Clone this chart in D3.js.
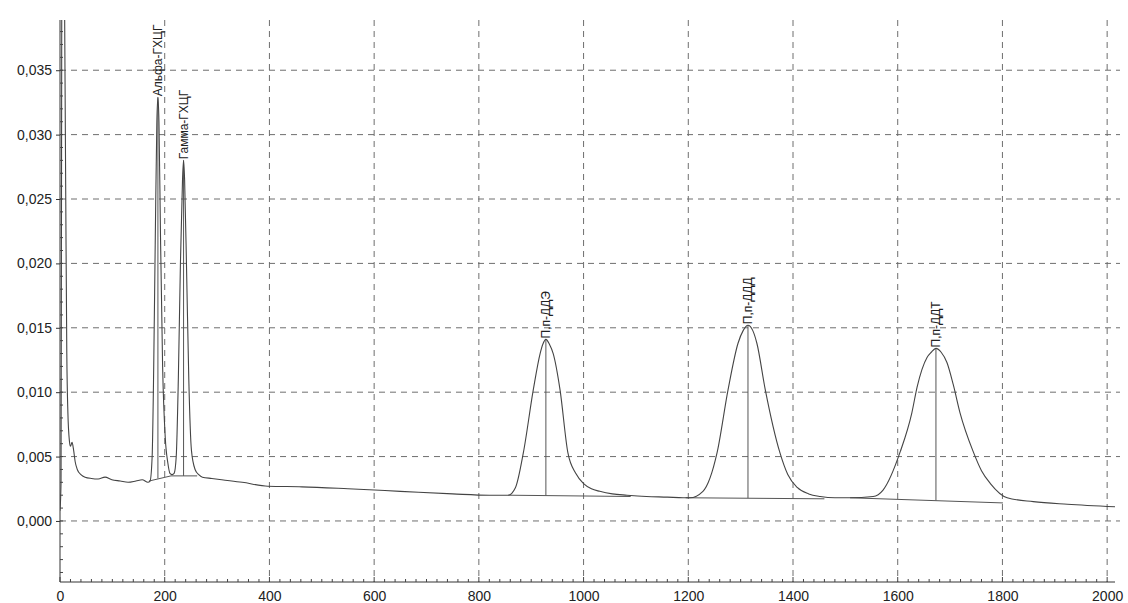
<!DOCTYPE html>
<html>
<head>
<meta charset="UTF-8">
<title>Хроматограмма</title>
<style>
    body { margin: 0; background: #fff; }
    text { font-family: "Liberation Sans", Arial, sans-serif; fill: #222; }
    .grid line { stroke: #6e6e6e; stroke-dasharray: 6,5; stroke-width: 1; }
    .trace { fill: none; stroke: #444; stroke-width: 1.1px; }
    .mark { stroke: #555; stroke-width: 1px; }
</style>
</head>
<body>
<svg id="chart"></svg>
<script src="https://d3js.org/d3.v7.min.js"></script>
<script>
    // signal (time, response)
    var traceX = [0, 2, 3.5, 5, 8, 11, 13, 15, 18, 20, 23, 26, 29, 33, 40, 48, 60, 73, 86, 99, 115, 130, 145, 157, 168,
        172, 176, 179, 182, 185, 187, 189, 192, 196, 201, 206, 210, 214, 218, 222, 226, 230, 234, 236, 238, 242, 246,
        251, 258, 265, 272, 290, 309, 348, 397, 462, 550, 650, 750, 820, 856, 870, 885, 904, 917, 922, 928, 935, 942,
        955, 970, 985, 1000, 1015, 1031, 1055, 1083, 1120, 1160, 1190, 1203, 1228, 1255, 1276, 1295, 1305, 1314, 1323,
        1331, 1347, 1375, 1390, 1408, 1430, 1452, 1480, 1509, 1553, 1572, 1605, 1627, 1637, 1656, 1664, 1673, 1683,
        1694, 1706, 1719, 1744, 1760, 1777, 1809, 1859, 1924, 2015];
    var traceY = [0.0008, 0.003, 0.045, 0.06, 0.045, 0.025, 0.013, 0.0085, 0.0062, 0.0058, 0.0061, 0.0055, 0.0046,
        0.0040, 0.0036, 0.0034, 0.0033, 0.00326, 0.0034, 0.0032, 0.0031, 0.0030, 0.0031, 0.0032, 0.0030,
        0.0031, 0.005, 0.012, 0.022, 0.031, 0.0329, 0.031, 0.022, 0.012, 0.0065, 0.0045, 0.0037, 0.0036, 0.0037,
        0.005, 0.011, 0.020, 0.0265, 0.0280, 0.0265, 0.019, 0.011,
        0.0055, 0.0040, 0.0036, 0.0034, 0.0033, 0.0032, 0.0030, 0.0027, 0.00265, 0.0025, 0.0023, 0.0021, 0.0020,
        0.0020, 0.0026, 0.0053, 0.0102, 0.0130, 0.0137, 0.0141, 0.0137, 0.0130,
        0.0102, 0.0053, 0.0037, 0.0029, 0.0025, 0.0023, 0.0021, 0.0020, 0.0019, 0.00185, 0.0018, 0.0018, 0.0023,
        0.0053, 0.0102, 0.0138, 0.0148, 0.0152, 0.0148,
        0.0138, 0.0102, 0.0053, 0.0036, 0.0026, 0.0021, 0.0019, 0.0018, 0.0018, 0.0019, 0.0024, 0.0054, 0.0084,
        0.0104, 0.0127, 0.0131, 0.0134, 0.0131,
        0.0123, 0.0106, 0.0084, 0.0054, 0.0039, 0.0029, 0.0018, 0.0015, 0.0013, 0.0011];

    // peaks
    var peakNames = ["Альфа-ГХЦГ", "Гамма-ГХЦГ", "П,п-ДДЭ", "П,п-ДДД", "П,п-ДДТ"];
    var peakTimes = [187, 236, 928, 1314, 1673];
    var peakHeights = [0.0329, 0.0280, 0.0141, 0.0152, 0.0134];
    var peakFloor = [0.0033, 0.0035, 0.00198, 0.00178, 0.0016];

    // integration baselines
    var baseStartX = [170, 212, 856, 1195, 1509];
    var baseStartY = [0.0031, 0.0035, 0.0020, 0.0018, 0.0018];
    var baseEndX = [212, 262, 1090, 1460, 1801];
    var baseEndY = [0.0035, 0.0035, 0.0019, 0.00172, 0.0014];

    var xTicks = [0, 200, 400, 600, 800, 1000, 1200, 1400, 1600, 1800, 2000];
    var yTicks = [0, 0.005, 0.010, 0.015, 0.020, 0.025, 0.030, 0.035];

    var vWidth = 1128, vHeight = 603;
    var mLeft = 60, mRight = 1115, mTop = 20, mBottom = 582;

    var svg = d3.select('#chart').attr('width', vWidth).attr('height', vHeight);

    var x = d3.scaleLinear().domain([0, 2015]).range([mLeft, mRight]);
    var y = d3.scaleLinear().domain([-0.00474, 0.0389]).range([mBottom, mTop]);

    svg.append('clipPath').attr('id', 'plot')
        .append('rect').attr('x', mLeft).attr('y', mTop).attr('width', mRight - mLeft).attr('height', mBottom - mTop);

    // grid
    var grid = svg.append('g').attr('class', 'grid');
    grid.selectAll('.gy').data(yTicks).enter().append('line')
        .attr('x1', mLeft).attr('x2', mRight + 5)
        .attr('y1', function (d) { return y(d); })
        .attr('y2', function (d) { return y(d); });
    grid.selectAll('.gx').data(xTicks.slice(1)).enter().append('line')
        .attr('y1', mTop).attr('y2', mBottom)
        .attr('x1', function (d) { return x(d); })
        .attr('x2', function (d) { return x(d); });

    // axes
    var fmtY = function (d) { return d3.format('.3f')(d).replace('.', ','); };
    var yAxis = svg.append('g').attr('transform', 'translate(' + mLeft + ',0)')
        .call(d3.axisLeft(y).tickValues(yTicks).tickFormat(fmtY).tickSize(4).tickPadding(4));
    var xAxis = svg.append('g').attr('transform', 'translate(0,' + mBottom + ')')
        .call(d3.axisBottom(x).tickValues(xTicks).tickFormat(d3.format('d')).tickSize(0).tickPadding(9));
    [xAxis, yAxis].forEach(function (a) {
        a.select('.domain').attr('stroke', '#333');
        a.selectAll('.tick line').attr('stroke', '#333');
        a.selectAll('text').style('font-size', '14px').attr('fill', '#222');
    });
    yAxis.select('.domain').attr('d', 'M0,' + mTop + 'V' + mBottom);
    xAxis.select('.domain').attr('d', 'M' + mLeft + ',0H' + mRight);

    // minor ticks
    svg.append('g').selectAll('line').data(d3.range(0, 2001, 20)).enter().append('line')
        .attr('x1', function (d) { return x(d); }).attr('x2', function (d) { return x(d); })
        .attr('y1', mBottom).attr('y2', function (d) { return d % 200 === 0 ? mBottom - 5 : mBottom - 3; })
        .attr('stroke', '#444');
    svg.append('g').selectAll('line').data(d3.range(-4, 39).map(function (i) { return i / 1000; })).enter().append('line')
        .attr('y1', function (d) { return y(d); }).attr('y2', function (d) { return y(d); })
        .attr('x1', mLeft).attr('x2', mLeft + 3)
        .attr('stroke', '#444');

    var plot = svg.append('g').attr('clip-path', 'url(#plot)');

    // integration baselines
    plot.selectAll('.base').data(baseStartX).enter().append('line').attr('class', 'mark')
        .attr('x1', function (d) { return x(d); })
        .attr('y1', function (d, i) { return y(baseStartY[i]); })
        .attr('x2', function (d, i) { return x(baseEndX[i]); })
        .attr('y2', function (d, i) { return y(baseEndY[i]); });

    // drop lines
    plot.selectAll('.drop').data(peakTimes).enter().append('line').attr('class', 'mark')
        .attr('x1', function (d) { return x(d); }).attr('x2', function (d) { return x(d); })
        .attr('y1', function (d, i) { return y(peakHeights[i]); })
        .attr('y2', function (d, i) { return y(peakFloor[i]); });

    // trace
    var pts = traceX.map(function (d, i) { return [d, traceY[i]]; });
    var line = d3.line()
        .x(function (d) { return x(d[0]); })
        .y(function (d) { return y(d[1]); })
        .curve(d3.curveMonotoneX);
    plot.append('path').datum(pts).attr('class', 'trace').attr('d', line);

    // peak labels
    svg.selectAll('.lbl').data(peakNames).enter().append('text')
        .attr('transform', function (d, i) {
            return 'translate(' + x(peakTimes[i]) + ',' + (y(peakHeights[i]) - 1) + ') rotate(-90)';
        })
        .attr('dy', '0.35em')
        .style('font-size', '12px')
        .text(function (d) { return d; });
</script>
</body>
</html>
